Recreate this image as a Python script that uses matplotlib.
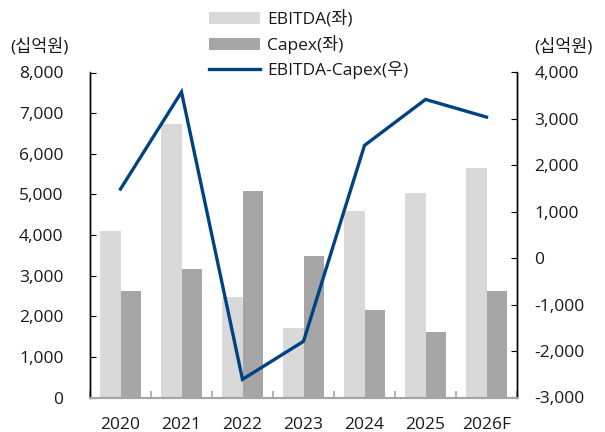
import matplotlib
matplotlib.use('Agg')
import matplotlib.pyplot as plt
import numpy as np

plt.rcParams['font.family'] = ['Open Sans', 'Noto Sans CJK KR', 'DejaVu Sans']

YEARS = ['2020', '2021', '2022', '2023', '2024', '2025', '2026F']
EBITDA = [4100, 6740, 2480, 1700, 4580, 5030, 5650]
CAPEX = [2610, 3160, 5090, 3490, 2150, 1610, 2610]
EBITDA_CAPEX = [1490, 3580, -2610, -1790, 2430, 3420, 3040]

LEFT_TICKS = list(range(0, 8001, 1000))
RIGHT_TICKS = list(range(-3000, 4001, 1000))

COLOR_EBITDA = '#d9d9d9'
COLOR_CAPEX = '#a6a6a6'
COLOR_LINE = '#004282'
TEXT = '#1a1a1a'
FS = 12.5

fig = plt.figure(figsize=(6.05, 4.32), dpi=100)
ax = fig.add_axes([90 / 605, 1 - 397.5 / 432, 427 / 605, 325 / 432])
ax2 = ax.twinx()

x = np.arange(len(YEARS))
w = 0.33
b1 = ax.bar(x - w / 2, EBITDA, w, color=COLOR_EBITDA, label='EBITDA(좌)', zorder=2)
b2 = ax.bar(x + w / 2, CAPEX, w, color=COLOR_CAPEX, label='Capex(좌)', zorder=2)
ln, = ax2.plot(x, EBITDA_CAPEX, color=COLOR_LINE, lw=2.4, label='EBITDA-Capex(우)',
               solid_joinstyle='miter')

ax.set_xlim(-0.5, len(YEARS) - 0.5)
ax.set_ylim(0, 8000)
ax2.set_ylim(-3000, 4000)

ax.set_yticks(LEFT_TICKS)
ax.set_yticklabels([f'{v:,}' for v in LEFT_TICKS])
ax2.set_yticks(RIGHT_TICKS)
ax2.set_yticklabels([f'{v:,}' for v in RIGHT_TICKS])

ax.set_xticks(x)
ax.set_xticklabels(YEARS)
ax.set_xticks(np.arange(-0.5, len(YEARS)), minor=True)
ax.tick_params(axis='x', which='major', length=0, pad=14, labelsize=FS, labelcolor=TEXT)
ax.tick_params(axis='x', which='minor', direction='in', length=5, color='#a6a6a6', width=1.2)
ax.tick_params(axis='y', direction='in', length=4, pad=19, labelsize=FS, labelcolor=TEXT)
ax2.tick_params(axis='y', direction='in', length=4, pad=12.5, labelsize=FS, labelcolor=TEXT)

for a in (ax, ax2):
    a.spines['top'].set_visible(False)
    a.spines['bottom'].set_color('#a6a6a6')
    a.spines['bottom'].set_linewidth(1.5)
    a.spines['left'].set_linewidth(1)
    a.spines['right'].set_linewidth(1)

fig.text(39 / 605, 1 - 47 / 432, '(십억원)', ha='center', va='center', fontsize=FS, color=TEXT)
fig.text(563 / 605, 1 - 47 / 432, '(십억원)', ha='center', va='center', fontsize=FS, color=TEXT)

fig.legend(handles=[b1, b2, ln], loc='upper left', bbox_to_anchor=(199 / 605, 1.0),
           frameon=False, fontsize=FS, handlelength=2.94, handletextpad=0.4,
           labelspacing=0.4, borderaxespad=0.2, labelcolor=TEXT)

fig.savefig('out.png', dpi=100)
